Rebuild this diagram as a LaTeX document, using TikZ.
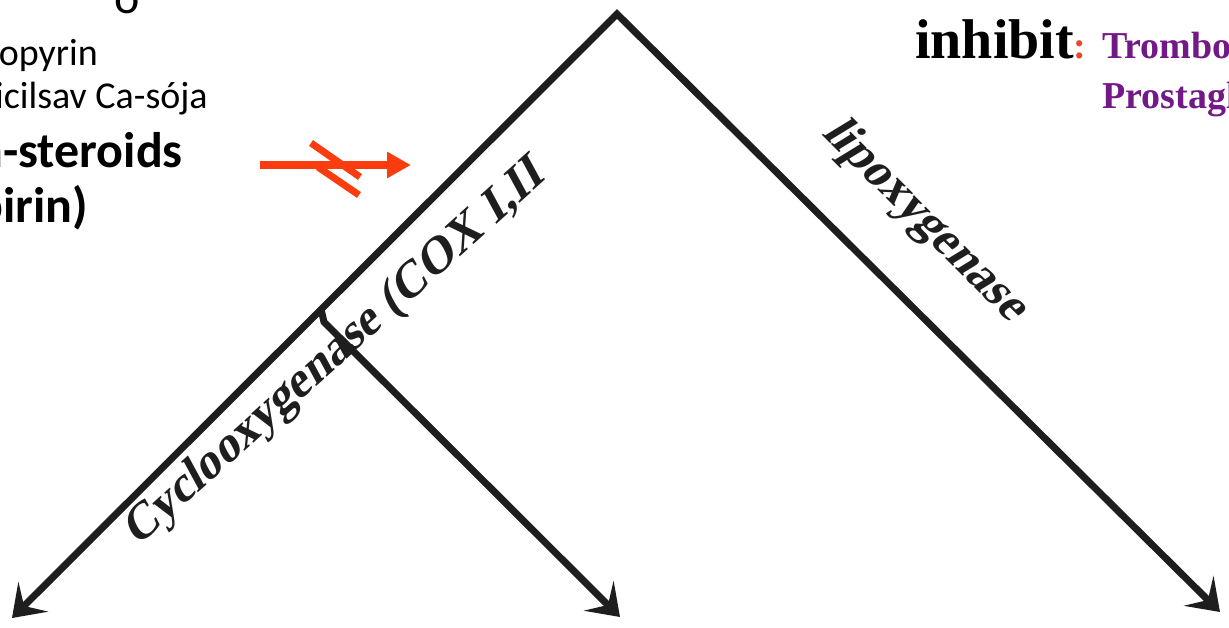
\documentclass[tikz,border=0pt]{standalone}
\usepackage{fontspec}
\setmainfont{Liberation Serif}
\newfontfamily\calib{Carlito}
\newfontfamily\enzfont{Liberation Serif}[FakeSlant=0.24]
\usetikzlibrary{arrows.meta}
\definecolor{ink}{RGB}{30,30,30}
\definecolor{redarrow}{RGB}{250,60,15}
\definecolor{purp}{RGB}{115,25,135}
\definecolor{colonred}{RGB}{235,70,40}
\tikzset{
  pathline/.style={draw=ink, line width=7pt, line join=miter, miter limit=10},
  bigtip/.tip={Stealth[length=30pt,width=42pt,inset=13pt]},
  enzyme/.style={text=ink, inner sep=0pt, font={\enzfont\bfseries\fontsize{49}{56}\selectfont}},
  lefttxt/.style={anchor=base east, inner sep=0pt, text=black, font={\calib\fontsize{38}{44}\selectfont}},
  leftbold/.style={anchor=base east, inner sep=0pt, text=black, font={\calib\bfseries\fontsize{50}{58}\selectfont}},
  purptxt/.style={anchor=base west, inner sep=0pt, text=purp, font={\bfseries\fontsize{38}{44}\selectfont}},
  redline/.style={draw=redarrow, line width=7.5pt}
}
\begin{document}
\begin{tikzpicture}[x=1pt,y=-1pt]
\useasboundingbox (0,0) rectangle (1229,627);
\fill[white] (0,0) rectangle (1229,627);

% left texts
\node[inner sep=0pt, anchor=base, font={\calib\fontsize{48}{52}\selectfont}] (cutword) at (127,13) {o};
\node[lefttxt] (amino) at (98,65) {Aminopyrin};
\node[lefttxt] (acetil) at (208,108) {Acetilszalicilsav Ca-sója};
\node[leftbold] (nonster) at (183,167) {Non-steroids};
\node[leftbold] (aspirin) at (88,222) {(Aspirin)};

% right texts
\node[anchor=base west, inner sep=0pt, text=black, font={\bfseries\fontsize{56}{60}\selectfont}] (inhibit) at (915,58) {inhibit};
\node[anchor=base west, inner sep=0pt, text=colonred, font={\bfseries\fontsize{38}{44}\selectfont}] (colon) at (1073,58) {:};
\node[purptxt] (trombo) at (1102,58) {Tromboxan};
\node[purptxt] (prosta) at (1102,108) {Prostaglandin};

% main lines
\coordinate (apex) at (617,14);
\coordinate (leftend) at (12,618);
\coordinate (rightend) at (1220,612);
\coordinate (fork) at (321,309);
\coordinate (forkbend) at (324,322);
\coordinate (midend) at (620,617);

\node[enzyme, rotate=42, anchor=base west] (coxlabel) at (137,548) {Cyclooxygenase (COX I,II};
\node[enzyme, rotate=-45, anchor=base west] (lipolabel) at (821,134) {lipoxygenase};

\draw[pathline, bigtip-bigtip] (leftend) -- (apex) -- (rightend);
\draw[pathline, -bigtip] (fork) -- (forkbend) -- (midend);

% red blocked arrow
\coordinate (ra1) at (260,165);
\coordinate (ra2) at (411,165);
\coordinate (sa1) at (311,143);
\coordinate (sa2) at (360,177);
\coordinate (sb1) at (318,167);
\coordinate (sb2) at (359,195);
\draw[redline, -{Triangle[length=24pt,width=25pt]}] (ra1) -- (ra2);
\draw[redline, line width=7pt] (sa1) -- (sa2);
\draw[redline, line width=7pt] (sb1) -- (sb2);
\end{tikzpicture}
\end{document}
